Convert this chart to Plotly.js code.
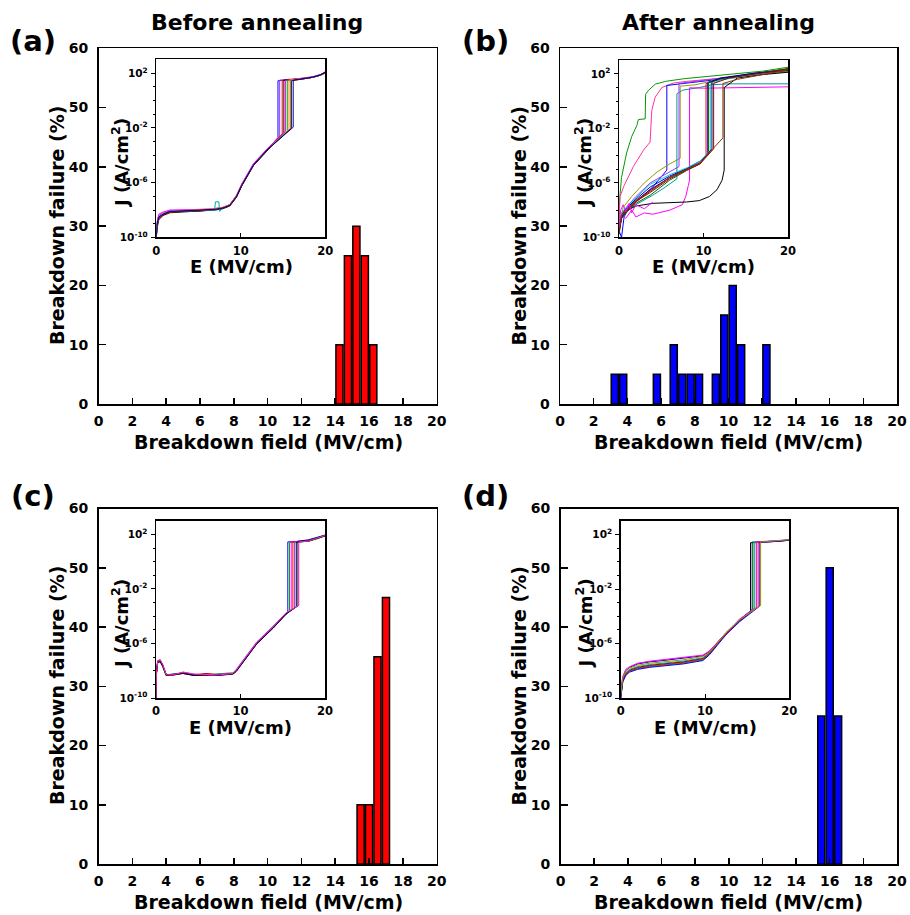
<!DOCTYPE html>
<html>
<head>
<meta charset="utf-8">
<script src="https://cdn.plot.ly/plotly-3.0.1.min.js"></script>
<style>html,body{margin:0;padding:0;background:#fff;}#chart{width:910px;height:915px;}</style>
</head>
<body>
<div id="chart"></div>
<script>
// ---------------- Histogram data (Breakdown field, MV/cm vs failure %) ----------------
const fieldA = [14.25, 14.75, 15.25, 15.75, 16.25];
const failA  = [10, 25, 30, 25, 10];
const fieldB = [3.25, 3.75, 5.75, 6.75, 7.25, 7.75, 8.25, 9.25, 9.75, 10.25, 10.75, 12.25];
const failB  = [5, 5, 5, 10, 5, 5, 5, 5, 15, 20, 10, 10];
const fieldC = [15.5, 16, 16.5, 17];
const failC  = [10, 10, 35, 45];
const fieldD = [15.5, 16, 16.5];
const failD  = [25, 50, 25];

const xTicks = [0, 2, 4, 6, 8, 10, 12, 14, 16, 18, 20];
const yTicks = [0, 10, 20, 30, 40, 50, 60];
const insetXTicks = [0, 10, 20];
const insetYTickExp = [-10, -6, -2, 2];
const insetYTickText = ['10<sup>-10</sup>', '10<sup>-6</sup>', '10<sup>-2</sup>', '10<sup>2</sup>'];

// ---------------- Inset J-E curves: E (MV/cm) and log10 J (A/cm^2) ----------------
// (a) before annealing
const ivA_E = [
 [0,0.1,0.3,0.8,1.6,3,5,7,7.9,8.7,9.5,10.1,11.5,13.1,14.4,14.4,15,17,18.5,19.4,20],
 [0,0.1,0.3,0.8,1.6,3,5,7,7.9,8.7,9.5,10.1,11.5,13.1,14.6,14.6,15.5,17,18.5,19.4,20],
 [0,0.1,0.3,0.8,1.6,3,5,7,7.9,8.7,9.5,10.1,11.5,13.1,14.9,14.9,15.5,17,18.5,19.4,20],
 [0,0.1,0.3,0.8,1.6,3,5,7,7.9,8.7,9.5,10.1,11.5,13.1,15.1,15.1,16,17,18.5,19.4,20],
 [0,0.1,0.3,0.8,1.6,3,5,7,7.9,8.7,9.5,10.1,11.5,13.1,15.3,15.3,16,17,18.5,19.4,20],
 [0,0.1,0.3,0.8,1.6,3,5,7,7.9,8.7,9.5,10.1,11.5,13.1,15.5,15.5,16,17,18.5,19.4,20],
 [0,0.1,0.3,0.8,1.6,3,5,7,7.9,8.7,9.5,10.1,11.5,13.1,15.7,15.7,16.5,17,18.5,19.4,20],
 [0,0.1,0.3,0.8,1.6,3,5,6.9,7.0,7.4,7.5,7.9,8.7,9.5,10.1,11.5,13.1,15.9,15.9,17,18.5,20],
 [0,0.1,0.3,0.8,1.6,3,5,7,7.9,8.7,9.5,10.1,11.5,13.1,16.0,16.0,16.5,17,18.5,19.4,20],
 [0,0.1,0.3,0.8,1.6,3,5,7,7.9,8.7,9.5,10.1,11.5,13.1,16.2,16.2,16.8,17.5,18.5,19.4,20]
];
const ivA_L = [
 [-10,-9.1,-8.5,-8.3,-8.1,-8.1,-8.0,-7.95,-7.85,-7.65,-7.0,-6.2,-4.7,-3.6,-2.7,1.45,1.5,1.55,1.7,1.85,2.05],
 [-9.8,-8.9,-8.4,-8.2,-8.05,-8.1,-8.05,-7.9,-7.8,-7.6,-6.95,-6.15,-4.65,-3.55,-2.6,1.5,1.5,1.6,1.72,1.9,2.08],
 [-9.6,-9.0,-8.6,-8.35,-8.15,-8.05,-8.1,-7.95,-7.85,-7.65,-7.0,-6.2,-4.7,-3.6,-2.45,1.45,1.55,1.6,1.7,1.88,2.0],
 [-10,-9.3,-8.7,-8.4,-8.2,-8.15,-8.1,-8.0,-7.9,-7.7,-7.05,-6.25,-4.75,-3.65,-2.35,1.5,1.52,1.58,1.72,1.86,2.05],
 [-9.7,-8.8,-8.3,-8.15,-8.0,-8.0,-7.95,-7.9,-7.8,-7.6,-6.9,-6.1,-4.6,-3.55,-2.25,1.48,1.55,1.6,1.75,1.9,2.1],
 [-10,-9.2,-8.6,-8.3,-8.15,-8.1,-8.05,-7.95,-7.85,-7.65,-7.0,-6.2,-4.7,-3.6,-2.2,1.45,1.5,1.55,1.7,1.85,2.02],
 [-9.9,-9.0,-8.5,-8.25,-8.1,-8.05,-8.0,-7.9,-7.8,-7.6,-6.95,-6.15,-4.7,-3.6,-2.1,1.5,1.55,1.6,1.72,1.88,2.06],
 [-9.8,-9.0,-8.5,-8.3,-8.1,-8.1,-8.05,-8.0,-7.4,-7.4,-8.1,-7.85,-7.65,-7.0,-6.2,-4.7,-3.6,-2.05,1.45,1.55,1.7,2.0],
 [-10,-9.1,-8.6,-8.35,-8.15,-8.1,-8.05,-7.95,-7.85,-7.7,-7.05,-6.25,-4.75,-3.65,-2.0,1.45,1.5,1.55,1.7,1.85,2.04],
 [-9.9,-9.0,-8.5,-8.3,-8.1,-8.05,-8.0,-7.95,-7.85,-7.65,-7.0,-6.2,-4.7,-3.6,-1.95,1.5,1.55,1.62,1.72,1.88,2.1]
];
const ivA_color = ['#0000ff','#9933ff','#ff0000','#000000','#ff00ff','#00aa00','#ff8800','#00aaaa','#aa0000','#000099'];

// (b) after annealing
const ivB_E = [
 [0,0.1,0.3,0.9,1.5,2.1,2.3,3.1,3.15,3.5,4.3,5.5,7.6,10,13.6,17,20],
 [0,0.12,0.6,1.7,2.9,3.68,3.88,4.28,5.07,6.45,8,11,14,17,20],
 [0,0.3,0.6,1,2,4,5.66,5.66,7,9,12,16,20],
 [0,0.5,1.5,3,4.5,6,7.24,7.24,9,12,16,20],
 [0,0.5,2,4,5.5,6.85,6.85,7.5,9.5,11,13,20],
 [0,0.3,0.8,1.5,2,3,4,6,7.5,7.9,8.2,8.35,8.35,10,13,16,20],
 [0,0.3,1,2,4,6,8,9.5,10.7,11.6,12.2,12.45,12.45,14,17,20],
 [0,0.3,1,2,3.7,6,7.1,7.1,9,12,16,20],
 [0,0.3,1,2,3.7,6,8,9.6,10.3,10.3,12,16,20],
 [0,0.3,1,2,3.7,6,8,9.6,10.5,10.5,12,16,20],
 [0,0.3,1,2,3.7,6,8,9.6,10.6,10.6,12,16,20],
 [0,0.3,1,2,3.7,6,8,9.6,10.8,10.8,12,16,20],
 [0,0.3,1,2,3.7,6,8,9.6,11.0,11.0,12,16,20],
 [0,0.3,1,2,3.7,6,8,9.6,11.2,11.2,13,16,20],
 [0,0.3,1,2,3.7,6,8,9.6,10.8,12.2,12.3,12.3,14,17,20],
 [0,0.2,0.5,0.8,1.2,1.5,2,3,4]
];
const ivB_L = [
 [-9,-7,-5.6,-3.8,-2.6,-1.8,-1.35,-1.3,0.5,0.8,1.25,1.45,1.64,1.8,2.0,2.2,2.49],
 [-8.8,-7.0,-6.2,-4.8,-3.6,-3.0,-0.68,0.29,1.0,1.33,1.45,1.6,1.8,2.0,2.3],
 [-9.5,-10,-8.5,-8.0,-7.4,-6.3,-5.06,1.15,1.25,1.4,1.6,1.9,2.2],
 [-9,-7.8,-7.0,-6.0,-5.2,-4.6,-4.2,1.1,1.2,1.6,1.9,2.2],
 [-9.2,-8.3,-7.6,-6.9,-6.3,-5.7,0.54,0.8,1.0,1.2,1.27,1.27],
 [-9,-8.3,-8.6,-8.0,-8.5,-8.2,-8.3,-8.0,-7.6,-7.0,-6.2,-5.8,0.98,0.95,0.98,1.0,1.05],
 [-9.5,-8.6,-8.0,-7.7,-7.5,-7.45,-7.4,-7.3,-7.0,-6.5,-5.8,-5.06,1.0,1.7,1.95,2.12],
 [-9.3,-8.4,-7.7,-7.0,-6.0,-5.2,-4.8,1.3,1.45,1.7,2.0,2.3],
 [-9.6,-8.5,-8.0,-7.4,-6.6,-5.6,-5.0,-4.5,-4.0,1.3,1.6,2.0,2.3],
 [-9.4,-8.3,-7.8,-7.2,-6.3,-5.5,-4.95,-4.4,-3.9,1.35,1.65,2.05,2.35],
 [-9.8,-8.6,-8.1,-7.5,-6.9,-5.8,-5.1,-4.6,-3.8,1.4,1.6,2.0,2.4],
 [-9.2,-8.2,-7.7,-7.1,-6.1,-5.4,-4.9,-4.4,-3.6,1.25,1.55,1.95,2.3],
 [-9.5,-8.4,-7.9,-7.3,-6.5,-5.6,-5.0,-4.55,-3.5,1.45,1.7,2.05,2.25],
 [-9.7,-8.5,-8.0,-7.35,-6.7,-5.7,-5.05,-4.6,-3.5,1.3,1.7,2.0,2.35],
 [-9.4,-8.4,-7.9,-7.3,-6.6,-5.6,-5.0,-4.55,-3.7,-2.8,-2.7,1.3,1.6,1.95,2.3],
 [-9.2,-8.0,-7.6,-8.1,-7.5,-8.2,-7.6,-7.9,-7.4]
];
const ivB_color = ['#009900','#ff3399','#0000ff','#999900','#009999','#ff00ff','#000000','#9933ff',
                   '#ff0000','#0000cc','#006600','#00cccc','#000080','#990000','#993300','#ff00ff'];

// (c) before annealing, second sample
const ivC_E = [
 [0,0.05,0.2,0.5,0.8,1.2,2,3.2,4.5,6,7.5,9.1,9.5,10.7,11.9,13.9,15.4,15.6,15.6,18,19,20],
 [0,0.05,0.2,0.5,0.8,1.2,2,3.2,4.5,6,7.5,9.1,9.5,10.7,11.9,13.9,15.4,15.8,15.8,18,19,20],
 [0,0.05,0.2,0.5,0.8,1.2,2,3.2,4.5,6,7.5,9.1,9.5,10.7,11.9,13.9,15.4,16.0,16.0,18,19,20],
 [0,0.05,0.2,0.5,0.8,1.2,2,3.2,4.5,6,7.5,9.1,9.5,10.7,11.9,13.9,15.4,16.2,16.2,18,19,20],
 [0,0.05,0.2,0.5,0.8,1.2,2,3.2,4.5,6,7.5,9.1,9.5,10.7,11.9,13.9,15.4,16.4,16.4,18,19,20],
 [0,0.05,0.2,0.5,0.8,1.2,2,3.2,4.5,6,7.5,9.1,9.5,10.7,11.9,13.9,15.4,16.6,16.6,18,19,20],
 [0,0.05,0.2,0.5,0.8,1.2,2,3.2,4.5,6,7.5,9.1,9.5,10.7,11.9,13.9,15.4,16.8,16.8,18,19,20],
 [0,0.05,0.2,0.5,0.8,1.2,2,3.2,4.5,6,7.5,9.1,9.5,10.7,11.9,13.9,15.4,16.9,16.9,18,19,20]
];
const ivC_L = [
 [-10,-8.2,-7.3,-7.25,-7.6,-8.3,-8.3,-8.15,-8.3,-8.25,-8.3,-8.2,-8.0,-7.0,-6.0,-4.8,-3.8,-3.72,1.45,1.5,1.7,1.9],
 [-9.8,-8.3,-7.4,-7.3,-7.7,-8.35,-8.25,-8.2,-8.35,-8.3,-8.25,-8.15,-7.95,-6.95,-5.95,-4.75,-3.75,-3.65,1.4,1.5,1.65,1.88],
 [-10,-8.1,-7.25,-7.2,-7.55,-8.25,-8.35,-8.1,-8.25,-8.3,-8.35,-8.25,-8.05,-7.05,-6.05,-4.85,-3.8,-3.55,1.45,1.55,1.75,1.92],
 [-9.9,-8.2,-7.35,-7.3,-7.65,-8.3,-8.3,-8.2,-8.3,-8.2,-8.3,-8.2,-8.0,-7.0,-6.0,-4.8,-3.8,-3.5,1.48,1.5,1.7,1.9],
 [-10,-8.3,-7.3,-7.2,-7.6,-8.25,-8.35,-8.15,-8.3,-8.35,-8.25,-8.2,-7.9,-6.9,-5.9,-4.7,-3.75,-3.4,1.45,1.55,1.72,1.95],
 [-9.8,-8.2,-7.4,-7.35,-7.7,-8.35,-8.3,-8.2,-8.35,-8.3,-8.3,-8.25,-8.05,-7.05,-6.05,-4.85,-3.85,-3.3,1.42,1.5,1.68,1.9],
 [-10,-8.1,-7.3,-7.25,-7.6,-8.3,-8.25,-8.15,-8.3,-8.25,-8.35,-8.2,-8.0,-7.0,-6.0,-4.8,-3.8,-3.25,1.5,1.6,1.8,1.95],
 [-9.9,-8.2,-7.3,-7.2,-7.55,-8.3,-8.3,-8.1,-8.25,-8.3,-8.3,-8.2,-7.95,-6.95,-5.95,-4.75,-3.75,-3.2,1.45,1.5,1.7,1.92]
];
const ivC_color = ['#0000ff','#00aa00','#ff00ff','#ff0000','#9933ff','#000000','#000099','#ff3399'];

// (d) after annealing, second sample
const ivD_E = [
 [0,0.1,0.25,0.6,1.05,2,3.4,5,7.4,9.75,10.5,11.5,12.5,14.1,15.4,15.4,17,18.5,20],
 [0,0.1,0.25,0.6,1.05,2,3.4,5,7.4,9.75,10.5,11.5,12.5,14.1,15.6,15.6,17,18.5,20],
 [0,0.1,0.25,0.6,1.05,2,3.4,5,7.4,9.75,10.5,11.5,12.5,14.1,15.7,15.7,17,18.5,20],
 [0,0.1,0.25,0.6,1.05,2,3.4,5,7.4,9.75,10.5,11.5,12.5,14.1,15.9,15.9,17,18.5,20],
 [0,0.1,0.25,0.6,1.05,2,3.4,5,7.4,9.75,10.5,11.5,12.5,14.1,16.1,16.1,17,18.5,20],
 [0,0.1,0.25,0.6,1.05,2,3.4,5,7.4,9.75,10.5,11.5,12.5,14.1,16.3,16.3,17,18.5,20],
 [0,0.1,0.25,0.6,1.05,2,3.4,5,7.4,9.75,10.5,11.5,12.5,14.1,16.5,16.5,17,18.5,20],
 [0,0.1,0.25,0.6,1.05,2,3.4,5,7.4,9.75,10.5,11.5,12.5,14.1,16.6,16.6,17,18.5,20]
];
const ivD_L = [
 [-10,-9.2,-8.7,-8.2,-7.96,-7.75,-7.6,-7.5,-7.35,-7.1,-6.74,-6.0,-5.27,-4.3,-3.6,1.4,1.45,1.5,1.6],
 [-9.8,-9.0,-8.5,-8.0,-7.75,-7.5,-7.35,-7.25,-7.1,-6.9,-6.6,-5.9,-5.2,-4.25,-3.5,1.45,1.48,1.52,1.62],
 [-10,-9.3,-8.8,-8.3,-8.05,-7.85,-7.7,-7.6,-7.45,-7.2,-6.8,-6.05,-5.3,-4.35,-3.45,1.42,1.46,1.5,1.6],
 [-9.9,-9.1,-8.6,-8.15,-7.9,-7.7,-7.55,-7.45,-7.3,-7.05,-6.7,-5.95,-5.25,-4.3,-3.4,1.4,1.45,1.52,1.58],
 [-10,-9.0,-8.4,-7.9,-7.7,-7.45,-7.3,-7.2,-7.05,-6.85,-6.55,-5.9,-5.2,-4.2,-3.35,1.45,1.5,1.55,1.62],
 [-9.9,-9.2,-8.7,-8.25,-8.0,-7.8,-7.65,-7.55,-7.4,-7.15,-6.75,-6.0,-5.3,-4.35,-3.3,1.42,1.47,1.5,1.6],
 [-10,-9.3,-8.8,-8.35,-8.1,-7.9,-7.75,-7.65,-7.5,-7.25,-6.85,-6.1,-5.35,-4.4,-3.25,1.4,1.45,1.5,1.58],
 [-9.8,-9.0,-8.5,-8.05,-7.8,-7.6,-7.45,-7.35,-7.2,-6.95,-6.65,-5.95,-5.2,-4.25,-3.2,1.45,1.48,1.55,1.62]
];
const ivD_color = ['#000000','#000099','#00aa00','#009999','#ff00ff','#ff0000','#0000ff','#999900'];

// ---------------- Build figure ----------------
const FONT = 'DejaVu Sans';
const W = 910, H = 915;
const px = v => v / W;
const py = v => 1 - v / H;

const traces = [];
function addBars(x, y, color, ax) {
  traces.push({type:'bar', x:x, y:y, xaxis:'x'+ax, yaxis:'y'+ax, width:0.42,
    marker:{color:color, line:{color:'#000', width:1.5}}, showlegend:false, hoverinfo:'x+y'});
}
addBars(fieldA, failA, '#ff0000', '');
addBars(fieldB, failB, '#0000ff', '2');
addBars(fieldC, failC, '#ff0000', '3');
addBars(fieldD, failD, '#0000ff', '4');

function addCurves(Es, Ls, colors, ax) {
  for (let i = 0; i < Es.length; i++) {
    traces.push({type:'scatter', mode:'lines', x:Es[i], y:Ls[i].map(v => Math.pow(10, v)),
      xaxis:'x'+ax, yaxis:'y'+ax, line:{color:colors[i], width:1}, showlegend:false, hoverinfo:'skip'});
  }
}
addCurves(ivA_E, ivA_L, ivA_color, '5');
addCurves(ivB_E, ivB_L, ivB_color, '6');
addCurves(ivC_E, ivC_L, ivC_color, '7');
addCurves(ivD_E, ivD_L, ivD_color, '8');

const tickFont = {family:FONT, size:14, color:'#000', weight:'bold'};
const insetTickFont = {family:FONT, size:10.5, color:'#000', weight:'bold'};

function mainX(l, r, anchor) {
  return {domain:[px(l), px(r)], anchor:anchor, range:[0,20], tickvals:xTicks, ticks:'inside', ticklen:6,
    tickwidth:1.5, tickcolor:'#000', showline:true, linecolor:'#000', linewidth:1.5, mirror:true,
    showgrid:false, zeroline:false, tickfont:tickFont, ticklabelstandoff:4, fixedrange:true};
}
function mainY(t, b, anchor) {
  return {domain:[py(b), py(t)], anchor:anchor, range:[0,60], tickvals:yTicks, ticks:'inside', ticklen:7,
    tickwidth:1.5, tickcolor:'#000', showline:true, linecolor:'#000', linewidth:1.5, mirror:true,
    showgrid:false, zeroline:false, tickfont:tickFont, ticklabelstandoff:6, fixedrange:true};
}
function insetX(l, r, anchor) {
  return {domain:[px(l), px(r)], anchor:anchor, range:[0,20], tickvals:insetXTicks, ticks:'inside', ticklen:4,
    tickwidth:1, tickcolor:'#000', showline:true, linecolor:'#000', linewidth:1.5, mirror:true,
    showgrid:false, zeroline:false, tickfont:{family:FONT, size:11.5, color:'#000', weight:'bold'},
    ticklabelstandoff:2, fixedrange:true};
}
function insetY(t, b, anchor) {
  const minorVals = [];
  for (let e = -9; e <= 2; e++) { if (insetYTickExp.indexOf(e) < 0) minorVals.push(Math.pow(10, e)); }
  return {domain:[py(b), py(t)], anchor:anchor, type:'log', range:[-10, 3.02],
    tickvals:insetYTickExp.map(e => Math.pow(10, e)), ticktext:insetYTickText,
    ticks:'outside', ticklen:4, tickwidth:1, tickcolor:'#000',
    minor:{tickvals:minorVals, ticks:'outside', ticklen:2, tickwidth:1, tickcolor:'#000'},
    showline:true, linecolor:'#000', linewidth:1.5, mirror:true,
    showgrid:false, zeroline:false, tickfont:insetTickFont, ticklabelstandoff:1, fixedrange:true};
}

const annotations = [];
function ann(text, x, y, size, angle) {
  annotations.push({text:text, xref:'paper', yref:'paper', x:px(x), y:py(y), xanchor:'center', yanchor:'middle',
    showarrow:false, textangle:angle || 0, font:{family:FONT, size:size, color:'#000', weight:'bold'}});
}
ann('(a)', 33, 41, 29); ann('(b)', 485, 41, 29); ann('(c)', 33, 496, 29); ann('(d)', 485, 496, 29);
ann('Before annealing', 257, 23, 22); ann('After annealing', 718, 23, 22);
const xTitle = 'Breakdown field (MV/cm)', yTitle = 'Breakdown failure (%)';
ann(xTitle, 268, 442, 19); ann(xTitle, 728.5, 442, 19); ann(xTitle, 268, 902, 19); ann(xTitle, 728.5, 902, 19);
ann(yTitle, 57, 226, 19, -90); ann(yTitle, 518.5, 226, 19, -90); ann(yTitle, 57, 686, 19, -90); ann(yTitle, 518.5, 686, 19, -90);
const eTitle = 'E (MV/cm)', jTitle = 'J (A/cm<sup>2</sup>)';
ann(eTitle, 241, 266, 18); ann(eTitle, 703.5, 266, 18); ann(eTitle, 240.5, 727, 18); ann(eTitle, 705, 727, 18);
ann(jTitle, 120, 163, 18, -90); ann(jTitle, 583, 163, 18, -90); ann(jTitle, 120, 624, 18, -90); ann(jTitle, 584.5, 624, 18, -90);

const layout = {
  width:W, height:H, margin:{l:0, r:0, t:0, b:0}, paper_bgcolor:'#fff', plot_bgcolor:'#fff',
  showlegend:false, font:{family:FONT, color:'#000'}, barmode:'overlay',
  xaxis: mainX(98.5, 436.7, 'y'),   yaxis: mainY(48.3, 404, 'x'),
  xaxis2: mainX(560, 897, 'y2'),    yaxis2: mainY(48.3, 404, 'x2'),
  xaxis3: mainX(98.5, 436.7, 'y3'), yaxis3: mainY(508.5, 864, 'x3'),
  xaxis4: mainX(560.5, 897, 'y4'),  yaxis4: mainY(508.5, 864, 'x4'),
  xaxis5: insetX(156.3, 325.3, 'y5'), yaxis5: insetY(59.3, 237.4, 'x5'),
  xaxis6: insetX(619, 788, 'y6'),     yaxis6: insetY(60, 237.4, 'x6'),
  xaxis7: insetX(156, 325, 'y7'),     yaxis7: insetY(520.5, 698, 'x7'),
  xaxis8: insetX(620.7, 789.3, 'y8'), yaxis8: insetY(520.7, 698, 'x8'),
  annotations: annotations
};

Plotly.newPlot('chart', traces, layout, {displayModeBar:false, staticPlot:true});
</script>
</body>
</html>
